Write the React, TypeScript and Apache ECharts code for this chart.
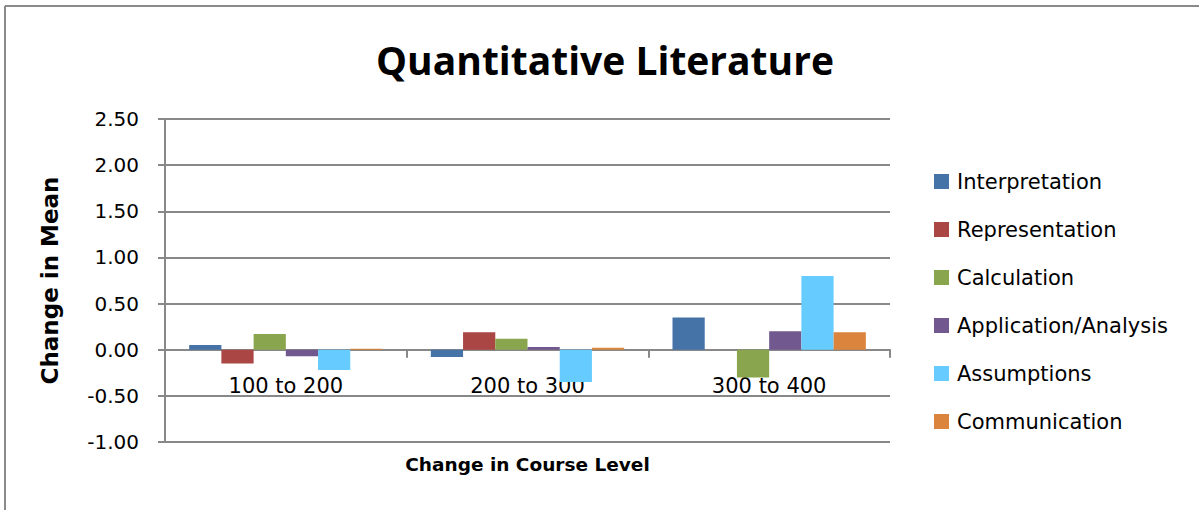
import React, { useEffect, useRef } from "react";
import * as echarts from "echarts";

const categories = ["100 to 200", "200 to 300", "300 to 400"];
const seriesNames = [
  "Interpretation",
  "Representation",
  "Calculation",
  "Application/Analysis",
  "Assumptions",
  "Communication",
];
const interpretation = [0.05, -0.08, 0.35];
const representation = [-0.15, 0.19, 0];
const calculation = [0.17, 0.12, -0.3];
const applicationAnalysis = [-0.07, 0.03, 0.2];
const assumptions = [-0.22, -0.35, 0.8];
const communication = [0.01, 0.02, 0.19];
const colors = ["#4572A7", "#AA4643", "#89A54E", "#71588F", "#66CCFF", "#DB843D"];
const yTicks = { min: -1, max: 2.5, interval: 0.5 };

const TITLE_FONT = "'Open Sans', sans-serif";
const FONT = "'DejaVu Sans', sans-serif";

export default function App() {
  const ref = useRef<HTMLDivElement>(null);
  useEffect(() => {
    if (!ref.current) return;
    const chart = echarts.init(ref.current, null, { renderer: "svg" });
    const values = [interpretation, representation, calculation, applicationAnalysis, assumptions, communication];
    chart.setOption({
      animation: false,
      backgroundColor: "#fff",
      textStyle: { fontFamily: FONT },
      title: {
        text: "Quantitative Literature",
        left: 600,
        textAlign: "center",
        top: 35,
        textStyle: { fontSize: 39, fontWeight: "bold", color: "#000", fontFamily: TITLE_FONT },
      },
      graphic: [
        { type: "line", shape: { x1: 5, y1: 6, x2: 1199, y2: 6 }, style: { stroke: "#8a8a8a", lineWidth: 2 } },
        { type: "line", shape: { x1: 5, y1: 6, x2: 5, y2: 510 }, style: { stroke: "#8a8a8a", lineWidth: 2 } },
      ],
      legend: {
        orient: "vertical",
        left: 929,
        top: 166,
        itemWidth: 15,
        itemHeight: 15,
        itemGap: 27,
        icon: "rect",
        data: seriesNames,
        textStyle: { fontSize: 21, color: "#000", fontFamily: FONT, padding: [0, 0, 0, 3] },
      },
      grid: { left: 165, right: 309, top: 119, bottom: 68, containLabel: false, outerBoundsMode: "none" },
      xAxis: {
        type: "category",
        data: categories,
        name: "Change in Course Level",
        nameLocation: "middle",
        nameGap: 13,
        nameTextStyle: { fontSize: 18.5, fontWeight: "bold", color: "#000", fontFamily: FONT },
        axisLine: { onZero: true, lineStyle: { color: "#888", width: 2 } },
        axisTick: { show: true, length: 8, lineStyle: { color: "#888", width: 2 } },
        axisLabel: { margin: -67, fontSize: 21, color: "#000", fontFamily: FONT },
      },
      yAxis: {
        type: "value",
        min: yTicks.min,
        max: yTicks.max,
        interval: yTicks.interval,
        name: "Change in Mean",
        nameLocation: "middle",
        nameGap: 104,
        nameTextStyle: { fontSize: 23, fontWeight: "bold", color: "#000", fontFamily: FONT },
        axisLine: { show: true, lineStyle: { color: "#888", width: 2 } },
        axisTick: { show: true, length: 7, lineStyle: { color: "#888", width: 2 } },
        axisLabel: {
          margin: 26,
          fontSize: 20,
          color: "#000",
          fontFamily: FONT,
          formatter: (v: number) => v.toFixed(2),
        },
        splitLine: { show: true, lineStyle: { color: "#888", width: 2 } },
      },
      series: seriesNames.map((name, i) => ({
        name,
        type: "bar",
        data: values[i],
        barGap: "0%",
        barCategoryGap: "20%",
        itemStyle: { color: colors[i] },
      })),
    });
    return () => chart.dispose();
  }, []);
  return (
    <div
      ref={ref}
      style={{ position: "fixed", left: 0, top: 0, width: 1199, height: 510 }}
    />
  );
}
